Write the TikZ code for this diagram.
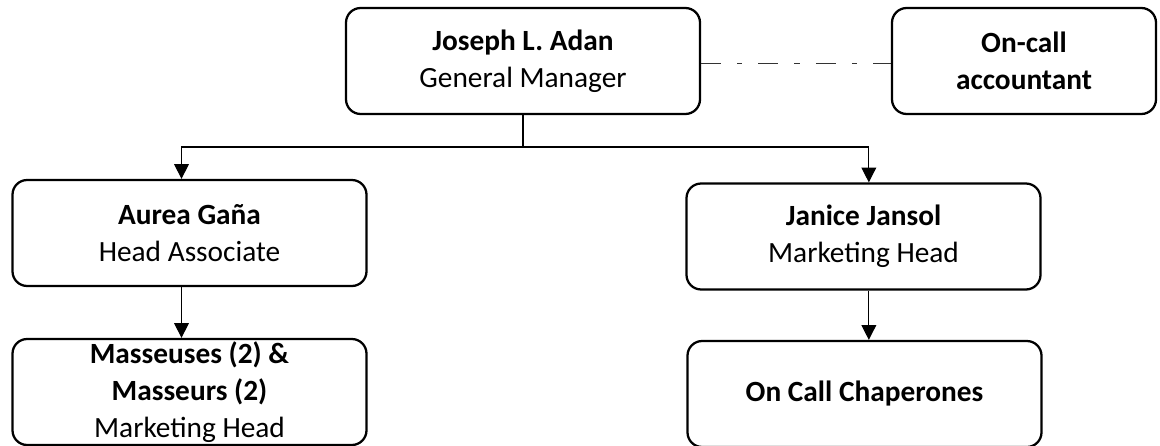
\documentclass[tikz,border=0pt]{standalone}
\usepackage{fontspec}
\setmainfont{Carlito}
\usetikzlibrary{arrows.meta}

\tikzset{
  orgbox/.style={draw, line width=1.7pt, rounded corners=11pt, align=center,
    minimum width=265.5pt, minimum height=79.5pt, inner sep=0pt,
    font=\fontsize{22}{28}\selectfont},
  link/.style={line width=0.8pt, -{Triangle[length=11pt,width=11pt]}},
  dotlink/.style={line width=0.8pt, draw=black!80, dash pattern=on 15pt off 12pt on 4pt off 12pt}
}

\begin{document}
\begin{tikzpicture}[x=0.75pt, y=-0.75pt]
    % Fix the page size
    \clip (0,0) rectangle (1160,446);

    % Top row
    \node[orgbox] (gm) at (523,61) {\textbf{Joseph L. Adan}\\General Manager};
    \node[orgbox, minimum width=198pt] (acct) at (1024,61) {\textbf{On-call}\\\textbf{accountant}};

    % Second row
    \node[orgbox] (aurea) at (189.5,233) {\textbf{Aurea Gaña}\\Head Associate};
    \node[orgbox] (janice) at (863.5,236.5) {\textbf{Janice Jansol}\\Marketing Head};

    % Third row
    \node[orgbox] (staff) at (189.5,392) {\textbf{Masseuses (2) \&}\\\textbf{Masseurs (2)}\\Marketing Head};
    \node[orgbox] (chaperones) at (864.5,394) {\textbf{On Call Chaperones}};

    % Connectors
    \coordinate (split) at (523,147);
    \draw[line width=0.8pt] (gm.south) -- (split);
    \draw[link] (split) -| ([xshift=-6pt]aurea.north);
    \draw[link] (split) -| ([xshift=4pt]janice.north);
    \draw[link] ([xshift=-6pt]aurea.south) -- ([xshift=-6pt]aurea.south |- staff.north);
    \draw[link] ([xshift=4pt]janice.south) -- ([xshift=4pt]janice.south |- chaperones.north);
    \draw[dotlink] ([yshift=-2pt]gm.east) -- ([yshift=-2pt]acct.west);
\end{tikzpicture}
\end{document}
